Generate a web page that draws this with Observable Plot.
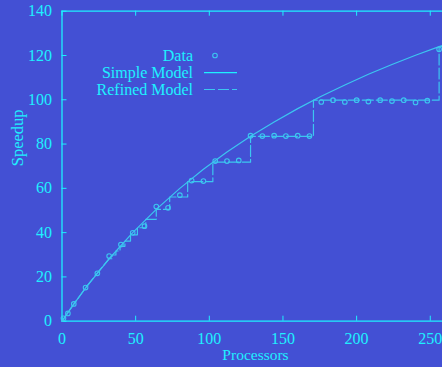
<!DOCTYPE html>
<html><head><meta charset="utf-8">
<script src="https://cdn.jsdelivr.net/npm/d3@7"></script>
<script src="https://cdn.jsdelivr.net/npm/@observablehq/plot@0.6"></script>
<style>
html,body{margin:0;padding:0;background:#4350d4;}
#wrap{position:relative;width:442px;height:367px;overflow:hidden;}
#wrap svg{position:absolute;left:0;top:0;}
</style></head><body><div id="wrap"></div>
<script>
// Measured data (processors, speedup)
const dataP = [1,4,8,16,24,32,40,48,56,64,72,80,88,96,104,112,120,128,136,144,152,160,168,176,184,192,200,208,216,224,232,240,248,256];
const dataS = [1.3,3.5,7.8,15.2,21.6,29.4,34.6,39.9,42.9,51.8,51.2,56.9,63.5,63.3,72.3,72.3,72.6,83.8,83.6,83.8,83.6,83.8,83.6,99.0,99.8,99.0,99.8,99.2,99.8,99.4,99.8,98.8,99.6,122.8];
// Simple model curve
const simpleP = [0,4,8,16,32,48,64,80,96,112,128,144,160,176,192,208,224,240,256,260];
const simpleS = [0,3.9,7.7,15.0,28.2,40.0,50.5,60.0,68.6,76.4,83.5,90.0,96.0,101.6,106.7,111.5,115.9,120.1,124.0,125.0];
// Refined model staircase vertices
const refinedP = [0,4,8,16,24,32,34.1,34.1,36.6,36.6,39.4,39.4,42.7,42.7,46.5,46.5,51.2,51.2,56.9,56.9,64,64,73.1,73.1,85.3,85.3,102.4,102.4,128,128,170.7,170.7,256,256,260];
const refinedS = [0,3.9,7.7,15.0,21.8,28.2,28.2,29.9,29.9,31.7,31.7,33.8,33.8,36.2,36.2,39.0,39.0,42.2,42.2,46.0,46.0,50.5,50.5,56.1,56.1,63.0,63.0,71.8,71.8,83.5,83.5,99.8,99.8,124.0,124.0];
const xTicks = [0,50,100,150,200,250];
const yTicks = [0,20,40,60,80,100,120,140];
const legendLabels = ["Data","Simple Model","Refined Model"];
const xLabel = "Processors", yLabel = "Speedup";

const fg = "#1ef0ff", lineC = "#3cc6f0";
const data = dataP.map((p,i)=>({p, s:dataS[i]}));
const simple = simpleP.map((p,i)=>({p, s:simpleS[i]}));
const refined = refinedP.map((p,i)=>({p, s:refinedS[i]}));

const chart = Plot.plot({
  width: 442, height: 367,
  marginLeft: 61.5, marginRight: -2.5, marginTop: 10.7, marginBottom: 46.3,
  style: {background: "transparent", color: fg, fontFamily: "'Liberation Serif', serif", fontSize: "16px"},
  x: {domain: [0,260]},
  y: {domain: [0,140]},
  marks: [
    Plot.axisX(xTicks, {tickSize: 0, tickPadding: 11, label: null, fontSize: 16}),
    Plot.axisY(yTicks, {tickSize: 0, tickPadding: 10, label: null, fontSize: 16}),
    Plot.tickX(xTicks, {x: d=>d, stroke: fg, insetTop: 305}),
    Plot.tickX(xTicks, {x: d=>d, stroke: fg, insetBottom: 305}),
    Plot.tickY(yTicks, {y: d=>d, stroke: fg, insetRight: 378}),
    Plot.ruleY([0,140], {stroke: fg, strokeWidth: 1.3}),
    Plot.ruleX([0], {stroke: fg, strokeWidth: 1.3}),
    Plot.line(simple, {x: "p", y: "s", stroke: lineC, strokeWidth: 1.2}),
    Plot.line(refined, {x: "p", y: "s", stroke: lineC, strokeWidth: 1.2, strokeDasharray: "11,3"}),
    Plot.dot(data, {x: "p", y: "s", r: 2.3, stroke: lineC, strokeWidth: 1.1, fill: "none"}),
    Plot.text([xLabel], {text: d=>d, frameAnchor: "bottom", dy: 39, dx: 2, fill: fg, fontSize: 15.5}),
    Plot.text([yLabel], {text: d=>d, frameAnchor: "left", dx: -44.5, rotate: -90, fill: fg, fontSize: 16.5})
  ]
});
const wrap = document.getElementById("wrap");
wrap.appendChild(chart);

// Legend overlay
const lg = d3.select(wrap).append("svg").attr("width",442).attr("height",367)
  .style("font-family","'Liberation Serif', serif").style("font-size","16px");
const baselines = [61, 77.7, 94.5], mids = [55.5, 72.7, 89.5];
legendLabels.forEach((t,i)=>{
  lg.append("text").attr("x",193).attr("y",baselines[i]).attr("text-anchor","end").attr("fill",fg).text(t);
});
lg.append("circle").attr("cx",215).attr("cy",mids[0]).attr("r",2.3).attr("fill","none").attr("stroke",lineC).attr("stroke-width",1.1);
lg.append("line").attr("x1",204).attr("x2",237).attr("y1",mids[1]).attr("y2",mids[1]).attr("stroke",fg).attr("stroke-width",1.2);
lg.append("line").attr("x1",204).attr("x2",237).attr("y1",mids[2]).attr("y2",mids[2]).attr("stroke",lineC).attr("stroke-width",1.2).attr("stroke-dasharray","11,3");
</script></body></html>
